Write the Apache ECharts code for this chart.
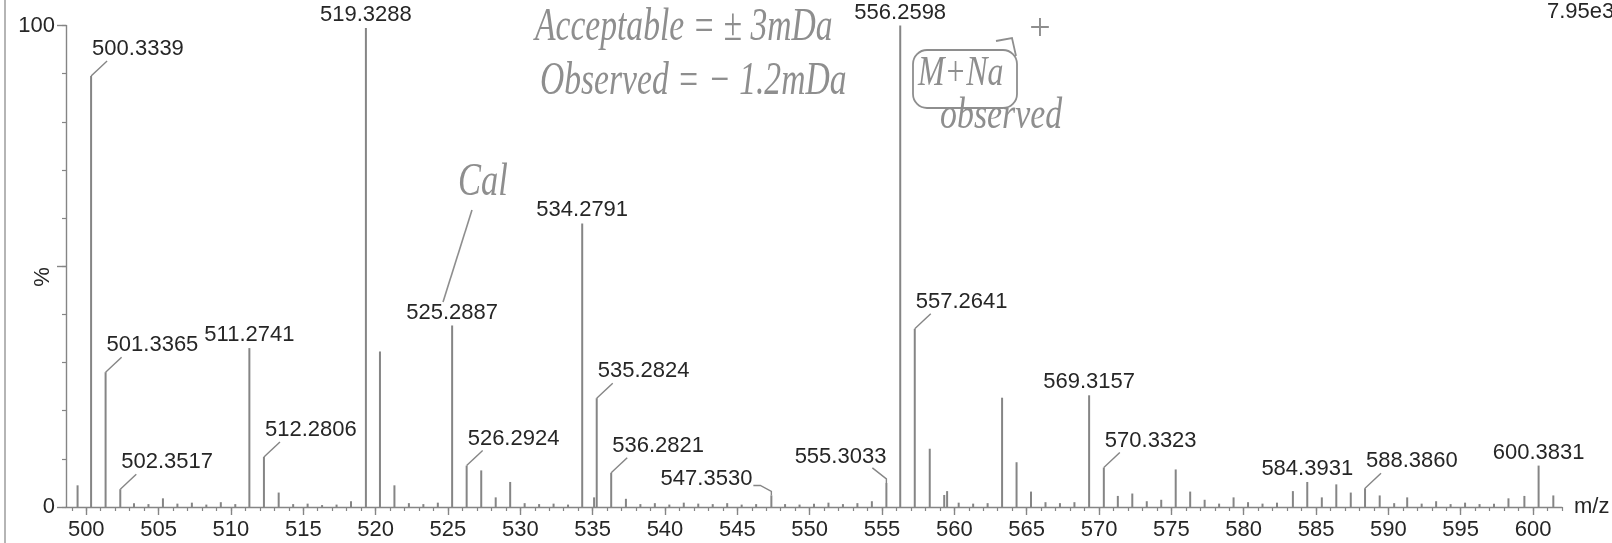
<!DOCTYPE html>
<html>
<head>
<meta charset="utf-8">
<title>Mass spectrum</title>
<script src="https://cdn.jsdelivr.net/npm/echarts@6/dist/echarts.min.js"></script>
<style>
html, body { margin: 0; padding: 0; background: #fff; }
#chart { width: 1612px; height: 543px; }
</style>
</head>
<body>
<div id="chart"></div>
<script>
// labelled peaks: m/z and relative intensity (%)
const labelledMz = [500.3339, 501.3365, 502.3517, 511.2741, 512.2806, 519.3288, 525.2887, 526.2924,
  534.2791, 535.2824, 536.2821, 547.3530, 555.3033, 556.2598, 557.2641, 569.3157, 570.3323,
  584.3931, 588.3860, 600.3831]
const labelledInt = [89.5, 28, 3.7, 33, 10.4, 99.5, 37.7, 8.6,
  58.9, 22.6, 7.1, 2.4, 5, 100, 37, 23.2, 8.2,
  5.2, 3.9, 8.6]
// where the label sits relative to its peak
const labelSide = ['right', 'right', 'right', 'top', 'right', 'top', 'top', 'right',
  'top', 'right', 'right', 'far', 'left', 'top', 'right', 'top', 'right',
  'top', 'right', 'top']

// unlabelled peaks and baseline noise
const otherMz = [499.4, 503.3, 504.3, 505.3, 506.3, 507.3, 508.3, 509.3, 510.3, 513.3, 514.3, 515.3,
  516.3, 517.3, 518.3, 520.3, 521.3, 522.3, 523.3, 524.3, 527.3, 528.3, 529.3, 530.3, 531.3,
  532.3, 533.3, 535.1, 537.3, 538.3, 539.3, 540.3, 541.3, 542.3, 543.3, 544.3, 545.3, 546.3,
  548.3, 549.3, 550.3, 551.3, 552.3, 553.3, 554.3, 558.3, 559.3, 559.5, 560.3, 561.3, 562.3,
  563.3, 564.3, 565.3, 566.3, 567.3, 568.3, 571.3, 572.3, 573.3, 574.3, 575.3, 576.3, 577.3,
  578.3, 579.3, 580.3, 581.3, 582.3, 583.4, 585.4, 586.4, 587.4, 589.4, 590.4, 591.3, 592.3,
  593.3, 594.3, 595.3, 596.3, 597.3, 598.3, 599.4, 601.4]
const otherInt = [4.5, 0.8, 0.6, 1.8, 0.7, 0.9, 0.5, 1.0, 0.6, 3.0, 0.6, 0.7,
  0.4, 0.5, 1.2, 32.3, 4.5, 0.8, 0.6, 0.9, 7.6, 2.0, 5.2, 0.8, 0.6,
  0.7, 0.5, 2.0, 1.7, 0.6, 0.8, 0.5, 0.9, 0.7, 0.6, 0.8, 0.5, 0.6,
  0.6, 0.5, 0.7, 0.9, 0.6, 0.8, 1.2, 12.1, 2.5, 3.3, 0.9, 0.7, 0.8,
  22.7, 9.3, 3.2, 1.0, 0.8, 1.0, 2.3, 2.8, 1.2, 1.5, 7.8, 3.2, 1.5,
  0.7, 2.0, 1.0, 0.7, 0.9, 3.3, 2.0, 4.7, 3.0, 2.4, 0.8, 2.0, 0.7,
  1.2, 0.6, 0.9, 0.6, 0.7, 1.8, 2.3, 2.4]

const xTickValues = [500, 505, 510, 515, 520, 525, 530, 535, 540, 545, 550,
  555, 560, 565, 570, 575, 580, 585, 590, 595, 600]
const xMinorTicks = [499, 500, 501, 502, 503, 504, 505, 506, 507, 508, 509, 510, 511, 512, 513, 514,
  515, 516, 517, 518, 519, 520, 521, 522, 523, 524, 525, 526, 527, 528, 529, 530, 531, 532, 533,
  534, 535, 536, 537, 538, 539, 540, 541, 542, 543, 544, 545, 546, 547, 548, 549, 550, 551, 552,
  553, 554, 555, 556, 557, 558, 559, 560, 561, 562, 563, 564, 565, 566, 567, 568, 569, 570, 571,
  572, 573, 574, 575, 576, 577, 578, 579, 580, 581, 582, 583, 584, 585, 586, 587, 588, 589, 590,
  591, 592, 593, 594, 595, 596, 597, 598, 599, 600, 601, 602]
const yMajorTicks = [0, 50, 100]
const yLabels = ['0', '100']

const peakColor = '#858585'
const textColor = '#262626'
const handColor = '#8e8e8e'
const labelFont = '22px "Liberation Sans", Arial, sans-serif'
const handFont = size => 'italic ' + size + 'px "Liberation Serif", serif'

const chart = echarts.init(document.getElementById('chart'))

const peakData = labelledMz.map((m, i) => [m, labelledInt[i]])
  .concat(otherMz.map((m, i) => [m, otherInt[i]]))
  .sort((a, b) => a[0] - b[0])

// 峰标签 + 引线
const renderLabel = (params, api) => {
  const i = params.dataIndex
  const p = api.coord([api.value(0), api.value(1)])
  const text = labelledMz[i].toFixed(4)
  const side = labelSide[i]
  const line = { stroke: peakColor, lineWidth: 1.4, fill: null }
  const txt = (x, y, align) => ({
    type: 'text',
    style: { text, x, y, align, verticalAlign: 'middle', font: labelFont, fill: textColor }
  })
  const children = []
  if (side === 'top') {
    children.push(txt(p[0], p[1] - 13, 'center'))
  } else if (side === 'right') {
    children.push({ type: 'polyline', shape: { points: [[p[0], p[1]], [p[0] + 16, p[1] - 15]] }, style: line })
    children.push(txt(p[0] + 1, p[1] - 27, 'left'))
  } else if (side === 'left') {
    children.push({ type: 'polyline', shape: { points: [[p[0], p[1]], [p[0], p[1] - 4], [p[0] - 14, p[1] - 15]] }, style: line })
    children.push(txt(p[0], p[1] - 26, 'right'))
  } else {
    children.push({ type: 'polyline', shape: { points: [[p[0], p[1]], [p[0], p[1] - 4], [p[0] - 11, p[1] - 10], [p[0] - 18, p[1] - 10]] }, style: line })
    children.push(txt(p[0] - 19, p[1] - 17, 'right'))
  }
  return { type: 'group', children }
}

const handText = (text, x, y, size, scaleX) => ({
  type: 'text', x, y, scaleX,
  style: { text, x: 0, y: 0, verticalAlign: 'middle', font: handFont(size), fill: handColor }
})

const option = {
  animation: false,
  backgroundColor: '#fff',
  grid: { left: 66, right: 50, top: 25.5, bottom: 36, containLabel: false, outerBoundsMode: 'none' },
  xAxis: [
    {
      type: 'value',
      min: 498.6,
      max: 602,
      name: 'm/z',
      nameLocation: 'end',
      nameGap: 12,
      nameTextStyle: { color: textColor, fontSize: 22, fontFamily: 'Liberation Sans' },
      splitLine: { show: false },
      axisLine: { lineStyle: { color: peakColor, width: 1.4 } },
      axisTick: { customValues: xTickValues, length: 8, lineStyle: { color: peakColor, width: 1.4 } },
      axisLabel: { customValues: xTickValues, margin: 12, color: textColor, fontSize: 22, fontFamily: 'Liberation Sans' }
    },
    {
      type: 'value',
      min: 498.6,
      max: 602,
      position: 'bottom',
      splitLine: { show: false },
      axisLine: { show: false },
      axisTick: { customValues: xMinorTicks, length: 4, lineStyle: { color: peakColor, width: 1.2 } },
      axisLabel: { show: false }
    }
  ],
  yAxis: [
    {
      type: 'value',
      min: 0,
      max: 100,
      interval: 10,
      splitLine: { show: false },
      axisLine: { show: true, lineStyle: { color: peakColor, width: 1.4 } },
      axisTick: { show: true, length: 4, lineStyle: { color: peakColor, width: 1.2 } },
      axisLabel: {
        margin: 11,
        color: textColor,
        fontSize: 22,
        fontFamily: 'Liberation Sans',
        formatter: v => (yLabels.includes(String(v)) ? String(v) : '')
      }
    },
    {
      type: 'value',
      min: 0,
      max: 100,
      position: 'left',
      splitLine: { show: false },
      axisLine: { show: false },
      axisTick: { show: true, customValues: yMajorTicks, length: 9, lineStyle: { color: peakColor, width: 1.4 } },
      axisLabel: { show: false }
    }
  ],
  series: [
    {
      type: 'bar',
      data: peakData,
      barWidth: 2,
      itemStyle: { color: peakColor },
      silent: true
    },
    {
      type: 'custom',
      data: labelledMz.map((m, i) => [m, labelledInt[i]]),
      renderItem: renderLabel,
      clip: false,
      silent: true
    }
  ],
  graphic: [
    // 页面左边框
    { type: 'line', shape: { x1: 5, y1: 0, x2: 5, y2: 543 }, style: { stroke: '#b5b5b5', lineWidth: 2 } },
    { type: 'text', left: 1547, top: 1, style: { text: '7.95e3', font: labelFont, fill: textColor } },
    // y 轴名称
    { type: 'text', x: 43, y: 277, rotation: Math.PI / 2, style: { text: '%', x: 0, y: 0, align: 'center', verticalAlign: 'middle', font: labelFont, fill: textColor } },
    // 手写批注
    handText('Acceptable = ± 3mDa', 535, 28, 46, 0.73),
    handText('Observed = − 1.2mDa', 540, 82, 46, 0.73),
    { type: 'rect', shape: { x: 913, y: 50, width: 104, height: 58, r: 14 }, style: { stroke: handColor, lineWidth: 1.8, fill: null } },
    { type: 'polyline', shape: { points: [[996, 41], [1012, 38], [1016, 56]] }, style: { stroke: handColor, lineWidth: 1.8, fill: null } },
    handText('M+Na', 918, 74, 42, 0.76),
    { type: 'text', x: 1040, y: 30, style: { text: '+', x: 0, y: 0, align: 'center', verticalAlign: 'middle', font: '38px "Liberation Serif"', fill: handColor } },
    handText('observed', 940, 116, 44, 0.77),
    { type: 'line', shape: { x1: 443, y1: 302, x2: 472, y2: 210 }, style: { stroke: handColor, lineWidth: 1.6 } },
    handText('Cal', 458, 183, 46, 0.75)
  ]
}

chart.setOption(option)
window.addEventListener('resize', () => chart.resize())
</script>
</body>
</html>
